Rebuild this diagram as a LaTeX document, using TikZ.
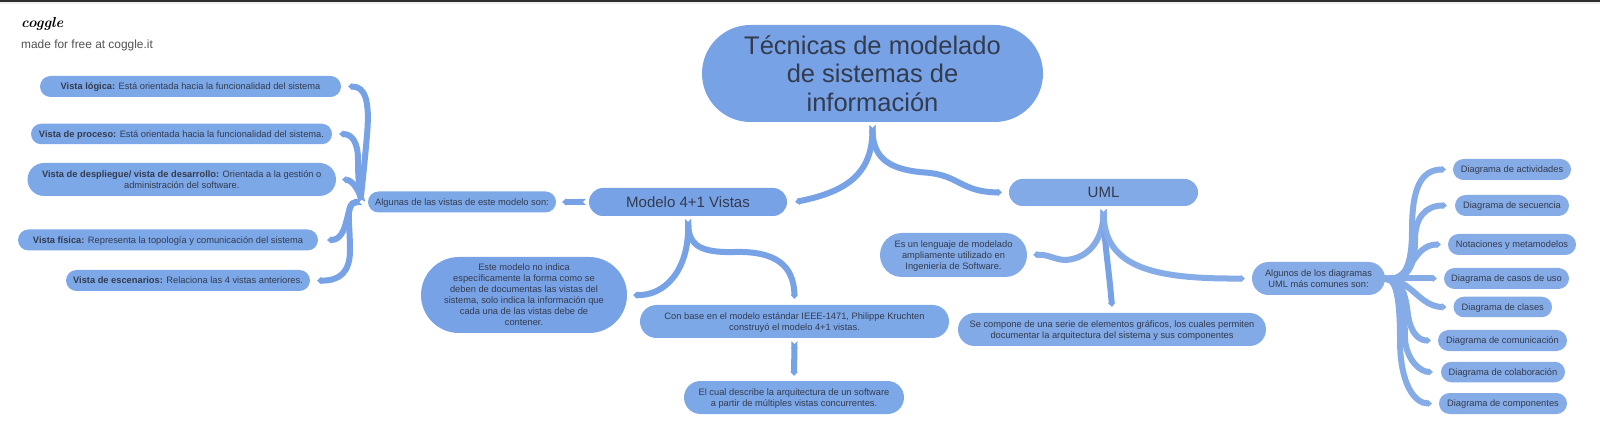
\documentclass[tikz,border=0pt]{standalone}
\usepackage{fontspec}
\setmainfont{Liberation Sans}
\newfontfamily\logofont{Latin Modern Roman}
\usetikzlibrary{arrows.meta,calc}
\definecolor{ink}{HTML}{333B4E}
\definecolor{cA}{HTML}{78A2E6}
\definecolor{cB}{HTML}{7DA8E8}
\definecolor{cC}{HTML}{86ACE7}
\tikzset{
  x=1pt,y=-1pt,
  pill/.style n args={2}{shape=rectangle,fill=cB,text=ink,inner sep=0pt,align=center,text depth=-0.5pt,
    minimum width=#1pt,minimum height=#2pt,rounded corners=#2*0.5pt,
    font=\fontsize{9.3}{11}\selectfont},
  rib/.style={line width=6pt,draw=cA,{Triangle Cap[reversed,cap angle=90]}-{Triangle[length=4pt,width=7.5pt]},line cap=butt}
}
\begin{document}
\begin{tikzpicture}
\useasboundingbox (0,0) rectangle (1600,427);
\fill[white] (0,0) rectangle (1600,427);
\fill[black!6] (0,2) rectangle (1600,4);
\fill[black!82] (0,0) rectangle (1600,2.4);

\node[anchor=west,font=\fontsize{14.5}{15}\logofont\itshape\bfseries,text=black,inner sep=0pt] (logo) at (21,24) {coggle};
\node[anchor=west,font=\fontsize{11.9}{12}\selectfont,text=black!68,inner sep=0pt] (made) at (21,45) {made for free at coggle.it};

\node[pill={301}{21}] (logica) at (190.5,86.5) {\textbf{Vista lógica:} Está orientada hacia la funcionalidad del sistema};
\node[pill={301}{20.5}] (proceso) at (181.5,134) {\textbf{Vista de proceso:} Está orientada hacia la funcionalidad del sistema.};
\node[pill={308.5}{33}] (despliegue) at (181.75,179.5) {\textbf{Vista de despliegue/ vista de desarrollo:} Orientada a la gestión o\\administración del software.};
\node[pill={300}{21}] (fisica) at (168,240) {\textbf{Vista física:} Representa la topología y comunicación del sistema};
\node[pill={244}{21}] (escenarios) at (188,280.5) {\textbf{Vista de escenarios:} Relaciona las 4 vistas anteriores.};
\node[pill={188}{21}] (algunas) at (462,202) {Algunas de las vistas de este modelo son:};
\node[pill={198}{28},fill=cA,font=\fontsize{15}{18}\selectfont] (modelo) at (688,202) {Modelo 4+1 Vistas};
\node[pill={206}{76},fill=cA] (este) at (524,295) {Este modelo no indica\\específicamente la forma como se\\deben de documentas las vistas del\\sistema, solo indica la información que\\cada una de las vistas debe de\\contener.};
\node[pill={309}{33}] (conbase) at (794.5,321.5) {Con base en el modelo estándar IEEE-1471, Philippe Kruchten\\construyó el modelo 4+1 vistas.};
\node[pill={220}{33}] (elcual) at (794,397.5) {El cual describe la arquitectura de un software\\a partir de múltiples vistas concurrentes.};
\node[pill={341}{97},fill=cA,text depth=0pt,font=\fontsize{25.5}{28.5}\selectfont] (title) at (872.5,73.5) {Técnicas de modelado\\de sistemas de\\información};
\node[pill={189}{27},fill=cC!60!cB,font=\fontsize{15}{18}\selectfont] (uml) at (1103.5,192.5) {UML};
\node[pill={147}{44},fill=cC!60!cB] (esun) at (953.5,255) {Es un lenguaje de modelado\\ampliamente utilizado en\\Ingeniería de Software.};
\node[pill={308}{33},fill=cC!60!cB] (secompone) at (1112,329.5) {Se compone de una serie de elementos gráficos, los cuales permiten\\documentar la arquitectura del sistema y sus componentes};
\node[pill={133}{33},fill=cC] (algunos) at (1318.5,278.5) {Algunos de los diagramas\\UML más comunes son:};
\node[pill={118}{21},fill=cC] (actividades) at (1512,169.5) {Diagrama de actividades};
\node[pill={114}{21},fill=cC] (secuencia) at (1512,205.5) {Diagrama de secuencia};
\node[pill={128}{21},fill=cC] (notaciones) at (1512,244.5) {Notaciones y metamodelos};
\node[pill={125}{21},fill=cC] (casos) at (1506.5,278.5) {Diagrama de casos de uso};
\node[pill={98.5}{20.5},fill=cC] (clases) at (1502.75,307) {Diagrama de clases};
\node[pill={129}{21},fill=cC] (comunicacion) at (1502.5,340.5) {Diagrama de comunicación};
\node[pill={124}{20.5},fill=cC] (colaboracion) at (1503,372) {Diagrama de colaboración};
\node[pill={128}{21},fill=cC] (componentes) at (1503,403.5) {Diagrama de componentes};

% title branches
\draw[rib] ([yshift=-3pt]title.south) .. controls (872,175) and (845,192) .. ([xshift=8pt]modelo.east);
\draw[rib] ([yshift=-3pt]title.south) .. controls (873,160) and (892,170) .. (925,172.5) .. controls (960,175) and (960,192) .. ([xshift=-7pt]uml.west);
% modelo branches
\draw[rib] ([xshift=-3pt]modelo.west) -- ([xshift=6pt]algunas.east);
\draw[rib] ([yshift=-3pt]modelo.south) .. controls (689,270) and (665,296) .. ([xshift=6pt]este.east);
\draw[rib] ([yshift=-3pt]modelo.south) .. controls (689,245) and (700,253) .. (735,252) .. controls (775,251) and (794,265) .. ([yshift=6pt]conbase.north);
\draw[rib] ([yshift=-3pt]conbase.south) -- ([yshift=5pt]elcual.north);
% uml branches
\draw[rib,draw=cC] ([yshift=-3pt]uml.south) .. controls (1103,235) and (1092,258) .. (1066,260) .. controls (1055,260) and (1048,254) .. ([xshift=6pt]esun.east);
\draw[rib] ([yshift=-3pt]uml.south) .. controls (1104,240) and (1109,270) .. ([yshift=6pt]secompone.north);
\draw[rib,draw=cC] ([yshift=-3pt]uml.south) .. controls (1105,270) and (1160,279) .. ([xshift=-7pt]algunos.west);
% left fan
\draw[rib] ([xshift=-6pt]algunas.west) .. controls (361,197) and (364,170) .. (367,135) .. controls (370,100) and (365,86.5) .. ([xshift=7pt]logica.east);
\draw[rib] ([xshift=-6pt]algunas.west) .. controls (359,190) and (358,175) .. (358,160) .. controls (358,142) and (352,134) .. ([xshift=7pt]proceso.east);
\draw[rib] ([xshift=-6pt]algunas.west) .. controls (360,195) and (354,180) .. ([xshift=6pt]despliegue.east);
\draw[rib] ([xshift=-6pt]algunas.west) .. controls (345,202) and (350,240) .. ([xshift=9pt]fisica.east);
\draw[rib] ([xshift=-6pt]algunas.west) .. controls (345,203) and (350,222) .. (350,250) .. controls (350,272) and (340,281) .. ([xshift=7pt]escenarios.east);
% right fan
\draw[rib,draw=cC] ([xshift=-3pt]algunos.east) .. controls (1405,280) and (1412,265) .. (1412,230) .. controls (1412,190) and (1420,169.5) .. ([xshift=-7pt]actividades.west);
\draw[rib,draw=cC] ([xshift=-3pt]algunos.east) .. controls (1410,280) and (1415,262) .. (1415,240) .. controls (1415,218) and (1425,205.5) .. ([xshift=-8pt]secuencia.west);
\draw[rib,draw=cC] ([xshift=-3pt]algunos.east) .. controls (1412,280) and (1412,244.5) .. ([xshift=-7pt]notaciones.west);
\draw[rib,draw=cC] ([xshift=-3pt]algunos.east) -- ([xshift=-7pt]casos.west);
\draw[rib,draw=cC] ([xshift=-3pt]algunos.east) .. controls (1412,281) and (1420,307) .. ([xshift=-7pt]clases.west);
\draw[rib,draw=cC] ([xshift=-3pt]algunos.east) .. controls (1404,281) and (1406,300) .. (1408,315) .. controls (1411,335) and (1420,340.5) .. ([xshift=-7pt]comunicacion.west);
\draw[rib,draw=cC] ([xshift=-3pt]algunos.east) .. controls (1400,281) and (1405,310) .. (1405,340) .. controls (1407,360) and (1420,372) .. ([xshift=-8pt]colaboracion.west);
\draw[rib,draw=cC] ([xshift=-3pt]algunos.east) .. controls (1398,281) and (1400,310) .. (1400,340) .. controls (1400,385) and (1415,403.5) .. ([xshift=-7pt]componentes.west);
\end{tikzpicture}
\end{document}
